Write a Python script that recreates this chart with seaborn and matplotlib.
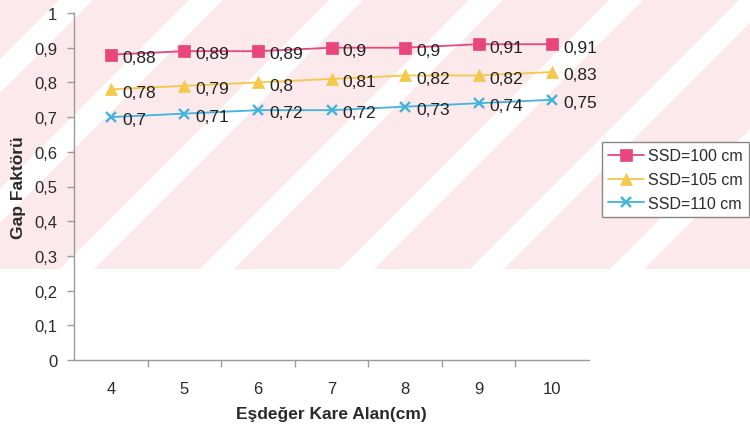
import numpy as np
import pandas as pd
import matplotlib
matplotlib.use("Agg")
import matplotlib.pyplot as plt
from matplotlib.patches import Polygon, Rectangle
import seaborn as sns

# Data: gap factor vs. equivalent square field size for three SSDs
alan = [4, 5, 6, 7, 8, 9, 10]
ssd100 = [0.88, 0.89, 0.89, 0.90, 0.90, 0.91, 0.91]
ssd105 = [0.78, 0.79, 0.80, 0.81, 0.82, 0.82, 0.83]
ssd110 = [0.70, 0.71, 0.72, 0.72, 0.73, 0.74, 0.75]
series_names = ["SSD=100 cm", "SSD=105 cm", "SSD=110 cm"]
y_ticks = [0, 0.1, 0.2, 0.3, 0.4, 0.5, 0.6, 0.7, 0.8, 0.9, 1.0]

df = pd.DataFrame({
    "alan": alan * 3,
    "gap": ssd100 + ssd105 + ssd110,
    "ssd": [n for n in series_names for _ in alan],
})

sns.set_theme(style="white")
plt.rcParams["font.family"] = ["Liberation Sans", "DejaVu Sans"]

W, H = 750, 427
fig = plt.figure(figsize=(W / 100, H / 100), dpi=100)
fig.patch.set_facecolor("white")

# Pale background band with diagonal white stripes
bg = fig.add_axes([0, 0, 1, 1], zorder=-5)
bg.set_xlim(0, W)
bg.set_ylim(H, 0)
bg.axis("off")
band_h = 270
band = Rectangle((0, 0), W, band_h, facecolor="#fce9ec", edgecolor="none")
bg.add_patch(band)
stripe_w = 34
for c in [60, 190, 330, 470, 610, 740, 880]:
    poly = Polygon([(c, 0), (c + stripe_w, 0),
                    (c + stripe_w - band_h, band_h), (c - band_h, band_h)],
                   closed=True, facecolor="white", edgecolor="none")
    bg.add_patch(poly)
    poly.set_clip_path(band)

ax = fig.add_axes([74 / W, 1 - 361 / H, (589 - 74) / W, (361 - 14) / H])
ax.set_facecolor("none")

colors = {"SSD=100 cm": "#e8467c", "SSD=105 cm": "#f4c84a", "SSD=110 cm": "#3fb4dc"}
markers = {"SSD=100 cm": "s", "SSD=105 cm": "^", "SSD=110 cm": "x"}

for name in series_names:
    sub = df[df["ssd"] == name]
    c = colors[name]
    sns.lineplot(data=sub, x="alan", y="gap", ax=ax, color=c, label=name,
                 marker=markers[name], markersize=8 if markers[name] != "x" else 7.5,
                 markeredgecolor=c, markerfacecolor=c,
                 markeredgewidth=1.7 if markers[name] == "x" else 0.5,
                 linewidth=1.3, estimator=None)
    for xv, yv in zip(sub["alan"], sub["gap"]):
        lab = f"{yv:g}".replace(".", ",")
        ax.annotate(lab, (xv, yv), xytext=(8, -2), textcoords="offset points",
                    ha="left", va="center", fontsize=12.5, color="#222222")

ax.set_xlim(3.5, 10.5)
ax.set_ylim(0, 1)
ax.set_yticks(y_ticks)
ax.set_yticklabels([f"{t:g}".replace(".", ",") for t in y_ticks])
ax.set_xticks(alan)
ax.set_xticklabels([str(a) for a in alan])
ax.set_xticks([4.5, 5.5, 6.5, 7.5, 8.5, 9.5], minor=True)

for s in ["top", "right"]:
    ax.spines[s].set_visible(False)
for s in ["left", "bottom"]:
    ax.spines[s].set_color("#9a9a9a")
    ax.spines[s].set_linewidth(1.0)

ax.tick_params(axis="y", which="major", direction="out", length=5, width=1,
               color="#9a9a9a", pad=7, labelsize=12, labelcolor="#2a2a2a", left=True)
ax.tick_params(axis="x", which="major", length=0, pad=15, labelsize=12,
               labelcolor="#2a2a2a", bottom=True)
ax.tick_params(axis="x", which="minor", direction="out", length=5, width=1,
               color="#9a9a9a", bottom=True)

ax.set_xlabel("Eşdeğer Kare Alan(cm)", fontsize=12.5, fontweight="bold",
              color="#2a2a2a", labelpad=7)
ax.set_ylabel("Gap Faktörü", fontsize=12.5, fontweight="bold", color="#2a2a2a",
              labelpad=6)

leg = ax.legend(loc="upper left", bbox_to_anchor=(602 / W, 1 - 143 / H),
                bbox_transform=fig.transFigure, frameon=True, fancybox=False,
                edgecolor="#888888", framealpha=1, fontsize=11.5, handlelength=2.2,
                borderpad=0.4, labelspacing=0.55, handletextpad=0.25,
                borderaxespad=0)
leg.get_frame().set_linewidth(1.0)
for t in leg.get_texts():
    t.set_color("#2a2a2a")

fig.savefig("out.png", dpi=100)
